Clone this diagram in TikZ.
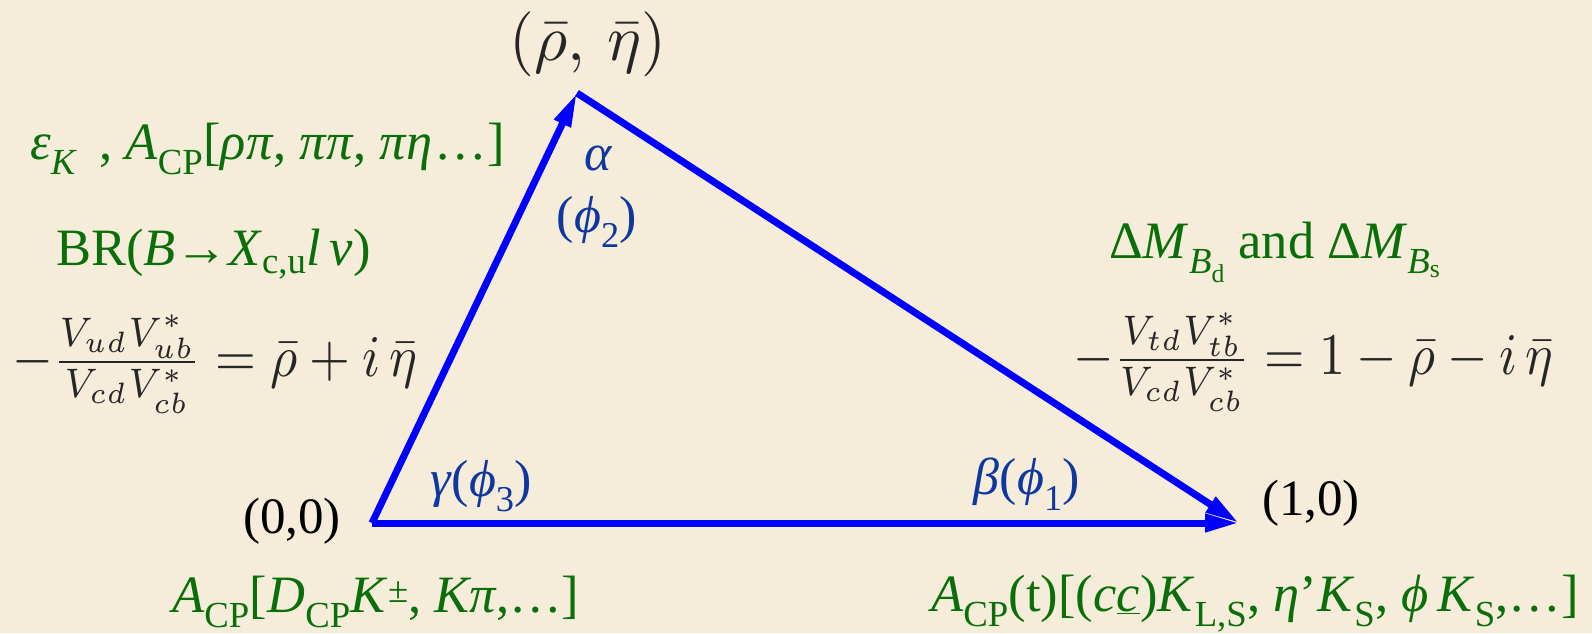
\documentclass[tikz,border=0pt]{standalone}
\usepackage[no-math]{fontspec}
\setmainfont{Liberation Serif}
\usetikzlibrary{arrows.meta}
\definecolor{bg}{RGB}{245,236,217}
\definecolor{grn}{RGB}{10,110,10}
\definecolor{lbl}{RGB}{15,55,160}
\definecolor{edgeblue}{RGB}{0,0,255}
\newcommand{\sz}[1]{\fontsize{#1}{#1}\selectfont}
\newcommand{\ti}[1]{\textit{#1}}
\newcommand{\sbx}[1]{\textsubscript{#1}}
\newcommand{\bigmath}[3]{\scalebox{#1}[#2]{\fontsize{10}{12}\selectfont$#3$}}
\tikzset{
  greentext/.style={text=grn, inner sep=0pt, font=\sz{52.5}},
  bluetext/.style={text=lbl, inner sep=0pt, font=\sz{52}},
  blacktext/.style={text=black, inner sep=0pt, font=\sz{51}},
  formula/.style={text=black!85, inner sep=0pt},
  edgearrow/.style={draw=edgeblue, line width=7pt, -{Triangle[length=34pt,width=17pt]}}
}
\begin{document}
\begin{tikzpicture}[x=1pt,y=-1pt]
\fill[bg] (0,0) rectangle (1592,633);
\useasboundingbox (0,0) rectangle (1592,633);
\coordinate (O) at (372,523);
\coordinate (A) at (577,93);
\coordinate (B) at (1239,523);
\draw[edgearrow] (O) -- (B);
\draw[edgearrow] (A) -- (B);
\draw[edgearrow] (O) -- (A);

\node[formula] (top) at (588,44) {\bigmath{6.4}{6.5}{(\bar\rho,\,\bar\eta)}};
\node[blacktext] (orig) at (292,521) {(0,0)};
\node[blacktext] (one) at (1311,503) {(1,0)};

\node[bluetext] (alpha) at (599,158) {\ti{α}};
\node[bluetext] (phi2) at (597,222) {(\ti{ϕ}\sbx{2})};
\node[bluetext] (gamma) at (481,486) {\ti{γ}(\ti{ϕ}\sbx{3})};
\node[bluetext] (beta) at (1027,484) {\ti{β}(\ti{ϕ}\sbx{1})};

\node[greentext, anchor=base west] (epsk) at (30,159) {\ti{ε}\sbx{\ti{K}}\, , \ti{A}\sbx{CP}[\ti{ρ\kern1ptπ}, \ti{π\kern1ptπ}, \ti{π\kern1ptη}\kern2pt…]};
\node[greentext, anchor=base west] (br) at (56,265) {BR(\ti{B}→\ti{X}\sbx{c,u}\ti{l\,ν})};
\node[greentext, anchor=base west] (dm) at (1109,258) {Δ\ti{M}\sbx{\ti{B}\sbx{d}} and Δ\ti{M}\sbx{\ti{B}\sbx{s}}};
\node[greentext, anchor=base west] (acp1) at (172,612) {\ti{A}\sbx{CP}[\ti{D}\sbx{CP}\ti{K}\textsuperscript{±}, \ti{Kπ},…]};
\node[greentext, anchor=base west] (acp2) at (931,611) {\ti{A}\sbx{CP}(t)[(\ti{c}\underline{\ti{c}})\ti{K}\sbx{L,S}, \ti{η}’\ti{K}\sbx{S}, \ti{ϕ}\,\ti{K}\sbx{S},…]};

\node[formula, anchor=west] (fl) at (12,364) {\bigmath{5.25}{5.9}{-\frac{V_{ud}V_{ub}^*}{V_{cd}V_{cb}^*} = \bar\rho + i\,\bar\eta}};
\node[formula, anchor=west] (fr) at (1073,362) {\bigmath{5.2}{5.9}{-\frac{V_{td}V_{tb}^*}{V_{cd}V_{cb}^*} = 1 - \bar\rho - i\,\bar\eta}};
\end{tikzpicture}
\end{document}
